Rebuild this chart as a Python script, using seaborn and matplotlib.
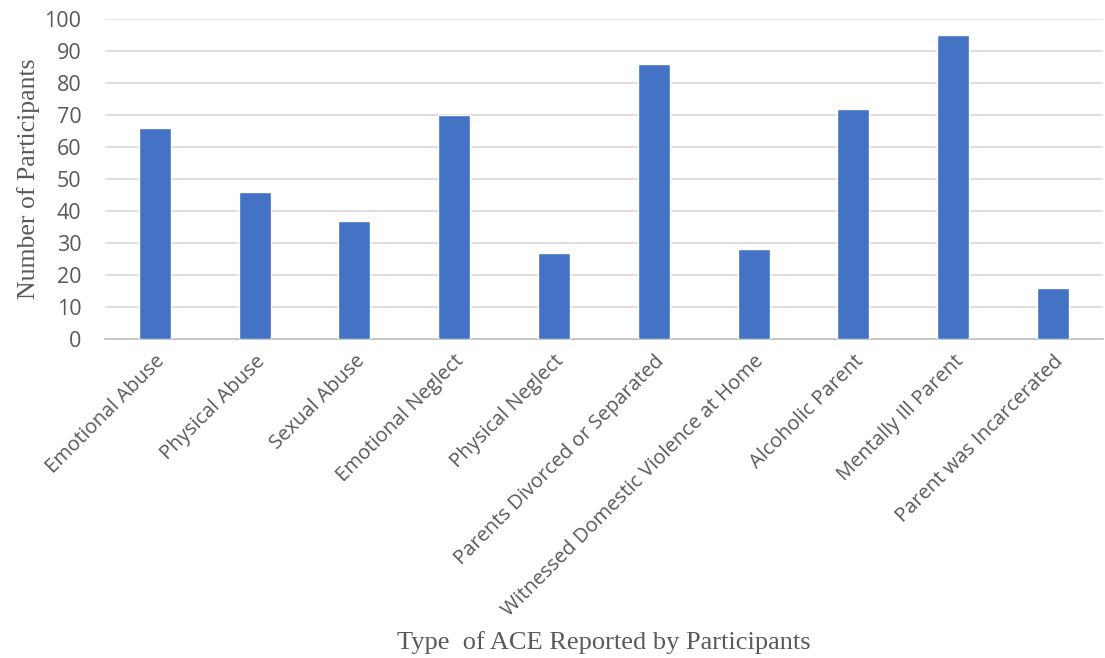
# ACE counts bar chart

import pandas as pd
import numpy as np
import matplotlib.pyplot as plt
import seaborn as sns

categories = ['Emotional Abuse', 'Physical Abuse', 'Sexual Abuse', 'Emotional Neglect',
              'Physical Neglect', 'Parents Divorced or Separated',
              'Witnessed Domestic Violence at Home', 'Alcoholic Parent',
              'Mentally Ill Parent', 'Parent was Incarcerated']
participants = [66, 46, 37, 70, 27, 86, 28, 72, 95, 16]
y_ticks = list(range(0, 101, 10))

df = pd.DataFrame({'ace': categories, 'count': participants})

sns.set_theme(style = 'white')
plt.rcParams['font.family'] = ['Open Sans', 'DejaVu Sans']

fig = plt.figure(figsize = (11.05, 6.58), dpi = 100)
ax = fig.add_axes([0.095, 0.485, 0.903, 0.486])

sns.barplot(ax = ax,
            data = df,
            x = 'ace',
            y = 'count',
            color = '#4472C4',
            saturation = 1,
            width = 0.32,
            zorder = 3)

ax.set_ylim(0, 100)
ax.set_xlim(-0.5, len(categories) - 0.5)
ax.set_yticks(y_ticks)
ax.yaxis.grid(True, color = '#d9d9d9', linewidth = 1.2, zorder = 0)
ax.set_axisbelow(True)

for side in ['top', 'right', 'left']:
    ax.spines[side].set_visible(False)
ax.spines['bottom'].set_color('#bfbfbf')
ax.spines['bottom'].set_linewidth(1.2)

# tick marks sit between the categories
ax.set_xticks(np.arange(-0.5, len(categories), 1), minor = True)
ax.tick_params(axis = 'x', which = 'minor', length = 6, color = '#bfbfbf', width = 1.2, direction = 'out')
ax.tick_params(axis = 'x', which = 'major', length = 0, pad = 9)
ax.tick_params(axis = 'y', length = 0, pad = 17, labelsize = 15.5, labelcolor = '#595959')
ax.set_xticks(range(len(categories)))
ax.set_xticklabels(categories, rotation = 45, ha = 'right', rotation_mode = 'anchor',
                   fontsize = 14.5, color = '#595959')

ax.set_ylabel('Number of Participants', fontsize = 18.5, color = '#595959',
              family = ['Liberation Serif'], labelpad = 3)
ax.set_xlabel('Type  of ACE Reported by Participants', fontsize = 19, color = '#595959',
              family = ['Liberation Serif'])
ax.xaxis.set_label_coords(0.5, -0.915)

fig.savefig('out.png', dpi = 100)
plt.close()
